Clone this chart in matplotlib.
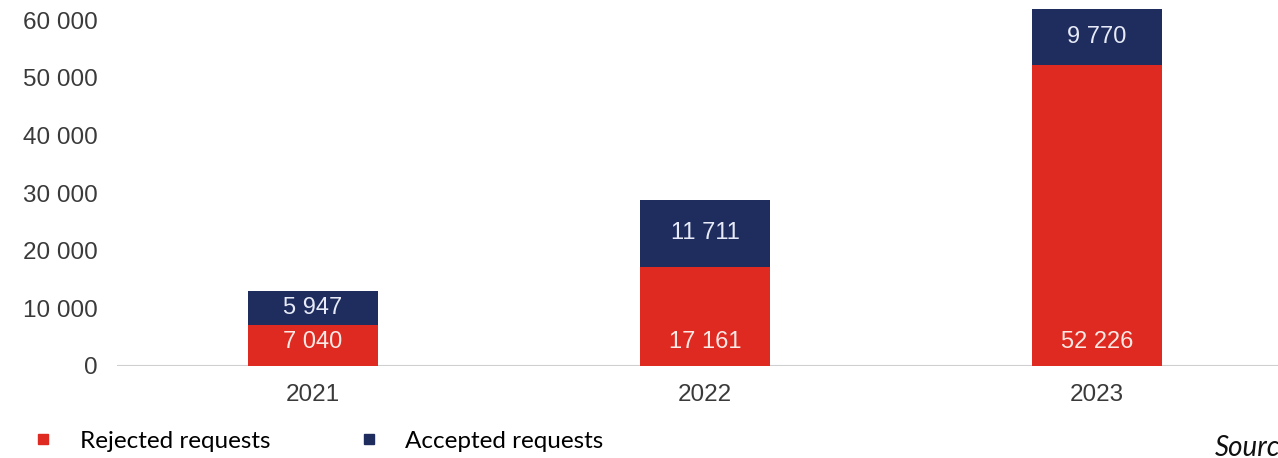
import matplotlib
matplotlib.use("Agg")
import matplotlib.pyplot as plt
from matplotlib.lines import Line2D

years = ["2021", "2022", "2023"]
rejected = [7040, 17161, 52226]
accepted = [5947, 11711, 9770]
yticks = [0, 10000, 20000, 30000, 40000, 50000, 60000]
legend_labels = ["Rejected requests", "Accepted requests"]
source_text = "Source:"

RED = "#DE2A20"
NAVY = "#1F2C5E"
TICK_COLOR = "#3a3a3a"

def fmt(v):
    return f"{v:,}".replace(",", " ")

fig = plt.figure(figsize=(12.78, 4.58), dpi=100)
W, H = 1278, 458
ax = fig.add_axes([117 / W, 1 - 366 / H, 1176 / W, 363 / H])

x = list(range(len(years)))
ax.bar(x, rejected, width=0.332, color=RED, zorder=2)
ax.bar(x, accepted, width=0.332, bottom=rejected, color=NAVY, zorder=2)

ax.set_xlim(-0.5, 2.5)
ax.set_ylim(0, 63000)
ax.set_yticks(yticks)
ax.set_yticklabels([fmt(v) for v in yticks])
ax.set_xticks(x)
ax.set_xticklabels(years)
for s in ax.spines.values():
    s.set_visible(False)
ax.axhline(0, color="#cfcfcf", lw=1.5, zorder=1)
ax.tick_params(axis="both", length=0, labelsize=17.5, labelcolor=TICK_COLOR,
               labelfontfamily="Liberation Sans")
ax.tick_params(axis="y", pad=14)
ax.tick_params(axis="x", pad=13)

for xi, r, a in zip(x, rejected, accepted):
    ax.annotate(fmt(r), (xi, 0), xytext=(0, 17), textcoords="offset points",
                ha="center", va="center", color="#fbe9e6", fontsize=17,
                family="Liberation Sans", zorder=3)
    ax.text(xi, r + a / 2, fmt(a), ha="center", va="center", color="#e6ebf7",
            fontsize=17, family="Liberation Sans", zorder=3)

handles = [Line2D([], [], marker="s", ls="", color=RED, markersize=7.5),
           Line2D([], [], marker="s", ls="", color=NAVY, markersize=7.5)]
fig.legend(handles, legend_labels, loc="center left",
           bbox_to_anchor=(31 / W, 1 - 441 / H), ncol=2, frameon=False,
           prop={"family": "Lato", "size": 17.5}, borderpad=0, borderaxespad=0,
           handlelength=1.0, handletextpad=1.02, columnspacing=3.53)

fig.text(1215 / W, 1 - 435 / H, source_text, ha="left", va="top",
         fontsize=20, style="italic", family="Lato", color="#111111")

fig.savefig("out.png", dpi=100)
